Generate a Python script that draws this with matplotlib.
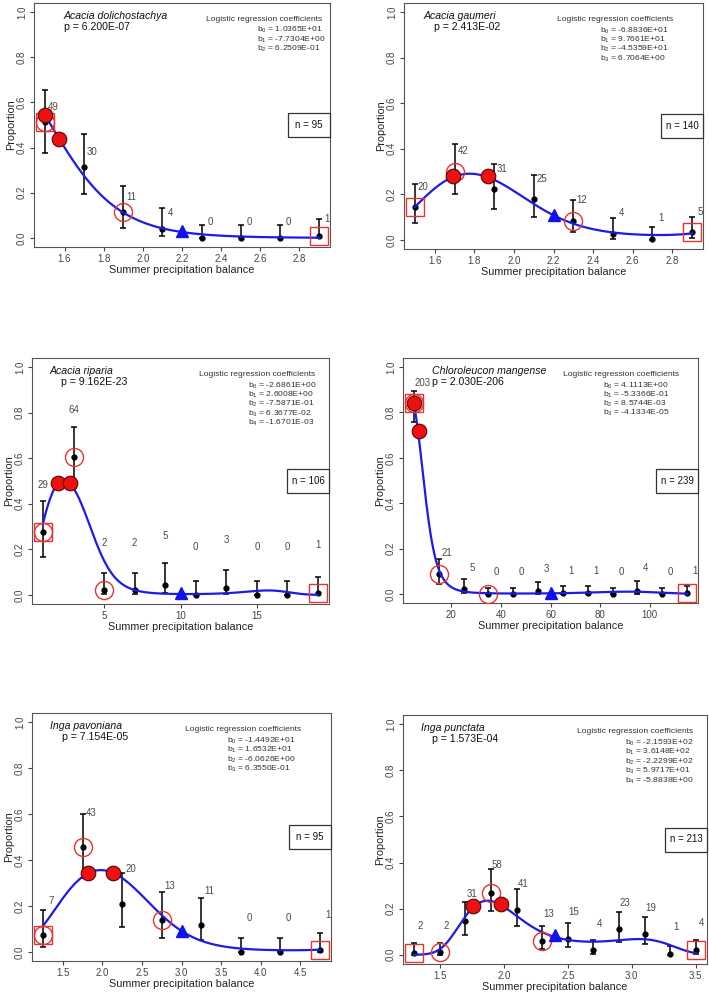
import numpy as np
import matplotlib
matplotlib.use("Agg")
import matplotlib.pyplot as plt
from matplotlib.patches import Rectangle

plt.rcParams['font.family'] = ['Liberation Sans', 'DejaVu Sans']
plt.rcParams['mathtext.fontset'] = 'custom'
plt.rcParams['mathtext.rm'] = 'Liberation Sans'
plt.rcParams['mathtext.it'] = 'Liberation Sans:italic'

# ---- data ----
species = ["Acacia dolichostachya", "Acacia gaumeri", "Acacia riparia",
           "Chloroleucon mangense", "Inga pavoniana", "Inga punctata"]
p_values = ["6.200E-07", "2.413E-02", "9.162E-23", "2.030E-206", "7.154E-05", "1.573E-04"]
n_total = [95, 140, 106, 239, 95, 213]

coef1 = ["1.0365E+01", "-7.7304E+00", "6.2509E-01"]
coef2 = ["-6.8836E+01", "9.7661E+01", "-4.5359E+01", "6.7064E+00"]
coef3 = ["-2.6861E+00", "2.6008E+00", "-7.5871E-01", "6.3677E-02", "-1.6701E-03"]
coef4 = ["4.1113E+00", "-5.3366E-01", "8.5744E-03", "-4.1334E-05"]
coef5 = ["-1.4492E+01", "1.6532E+01", "-6.0626E+00", "6.3550E-01"]
coef6 = ["-2.1593E+02", "3.6148E+02", "-2.2299E+02", "5.9717E+01", "-5.8838E+00"]

x1 = [1.5, 1.7, 1.9, 2.1, 2.3, 2.5, 2.7, 2.9]
y1 = [0.515, 0.315, 0.115, 0.04, 0.0, 0.0, 0.0, 0.01]
lo1 = [0.375, 0.195, 0.045, 0.008, 0.0, 0.0, 0.0, 0.0]
hi1 = [0.655, 0.46, 0.232, 0.134, 0.058, 0.058, 0.058, 0.082]
cnt1 = [49, 30, 11, 4, 0, 0, 0, 1]

x2 = [1.5, 1.7, 1.9, 2.1, 2.3, 2.5, 2.7, 2.9]
y2 = [0.145, 0.30, 0.225, 0.18, 0.085, 0.028, 0.005, 0.035]
lo2 = [0.075, 0.20, 0.135, 0.10, 0.035, 0.005, 0.0, 0.008]
hi2 = [0.245, 0.42, 0.335, 0.285, 0.175, 0.095, 0.058, 0.102]
cnt2 = [20, 42, 31, 25, 12, 4, 1, 5]

x3 = [1, 3, 5, 7, 9, 11, 13, 15, 17, 19]
y3 = [0.275, 0.605, 0.02, 0.02, 0.045, 0.0, 0.03, 0.0, 0.0, 0.01]
lo3 = [0.165, 0.47, 0.005, 0.005, 0.008, 0.0, 0.005, 0.0, 0.0, 0.0]
hi3 = [0.412, 0.737, 0.095, 0.095, 0.14, 0.06, 0.11, 0.06, 0.06, 0.078]
cnt3 = [29, 64, 2, 2, 5, 0, 3, 0, 0, 1]

x4 = [5, 15, 25, 35, 45, 55, 65, 75, 85, 95, 105, 115]
y4 = [0.84, 0.088, 0.02, 0.0, 0.0, 0.012, 0.005, 0.005, 0.0, 0.012, 0.0, 0.005]
lo4 = [0.757, 0.045, 0.003, 0.0, 0.0, 0.0, 0.0, 0.0, 0.0, 0.0, 0.0, 0.0]
hi4 = [0.896, 0.152, 0.065, 0.026, 0.026, 0.052, 0.036, 0.036, 0.026, 0.055, 0.026, 0.036]
cnt4 = [203, 21, 5, 0, 0, 3, 1, 1, 0, 4, 0, 1]

x5 = [1.25, 1.75, 2.25, 2.75, 3.25, 3.75, 4.25, 4.75]
y5 = [0.075, 0.455, 0.21, 0.14, 0.115, 0.0, 0.0, 0.01]
lo5 = [0.02, 0.32, 0.11, 0.06, 0.05, 0.0, 0.0, 0.0]
hi5 = [0.18, 0.60, 0.345, 0.26, 0.235, 0.06, 0.06, 0.082]
cnt5 = [7, 43, 20, 13, 11, 0, 0, 1]

x6 = [1.3, 1.5, 1.7, 1.9, 2.1, 2.3, 2.5, 2.7, 2.9, 3.1, 3.3, 3.5]
y6 = [0.008, 0.01, 0.148, 0.27, 0.195, 0.06, 0.07, 0.02, 0.11, 0.09, 0.005, 0.02]
lo6 = [0.0, 0.0, 0.085, 0.19, 0.125, 0.025, 0.032, 0.002, 0.055, 0.045, 0.0, 0.005]
hi6 = [0.05, 0.05, 0.23, 0.37, 0.285, 0.125, 0.138, 0.065, 0.185, 0.165, 0.04, 0.065]
cnt6 = [2, 2, 31, 58, 41, 13, 15, 4, 23, 19, 1, 4]

# highlighted points (red open circles) and fitted markers
open1 = [1.5, 1.9]
open2 = [1.7, 2.3]
open3 = [1, 3, 5]
open4 = [5, 15, 35]
open5 = [1.25, 1.75, 2.75]
open6 = [1.5, 1.9, 2.3]

red_x1, red_y1 = [1.5, 1.57], [0.545, 0.44]
red_x2, red_y2 = [1.69, 1.87], [0.28, 0.28]
red_x3, red_y3 = [2.0, 2.75], [0.49, 0.49]
red_x4, red_y4 = [5, 7], [0.84, 0.72]
red_x5, red_y5 = [1.82, 2.14], [0.345, 0.345]
red_x6, red_y6 = [1.76, 1.98], [0.21, 0.22]

tri_x = [2.2, 2.2, 10, 60, 3.0, 2.4]
tri_y = [0.03, 0.11, 0.01, 0.005, 0.09, 0.085]

xticks1 = [1.6, 1.8, 2.0, 2.2, 2.4, 2.6, 2.8]
xticks2 = [1.6, 1.8, 2.0, 2.2, 2.4, 2.6, 2.8]
xticks3 = [5, 10, 15]
xticks4 = [20, 40, 60, 80, 100]
xticks5 = [1.5, 2.0, 2.5, 3.0, 3.5, 4.0, 4.5]
xticks6 = [1.5, 2.0, 2.5, 3.0, 3.5]

# count label heights
laby1 = [0.58, 0.38, 0.18, 0.11, 0.07, 0.07, 0.07, 0.082]
laby2 = [0.231, 0.39, 0.31, 0.267, 0.175, 0.117, 0.095, 0.124]
laby3 = [0.482, 0.81, 0.23, 0.23, 0.26, 0.21, 0.24, 0.21, 0.21, 0.218]
laby4 = [0.928, 0.18, 0.113, 0.098, 0.098, 0.108, 0.103, 0.103, 0.098, 0.115, 0.098, 0.103]
laby5 = [0.221, 0.605, 0.36, 0.287, 0.264, 0.148, 0.148, 0.161]
laby6 = [0.124, 0.124, 0.263, 0.388, 0.309, 0.177, 0.184, 0.134, 0.224, 0.205, 0.119, 0.136]

# ---- layout ----
W, H = 709, 998
boxes_px = [(34, 3, 330, 247), (404, 3, 703, 249), (32, 358, 329, 604),
            (403, 358, 698, 603), (32, 713, 331, 961), (403, 715, 707, 964)]
lab_dx = [6, 6, 0, 6, 6, 4.5]
name_x = [0.101, 0.064, 0.059, 0.098, 0.061, 0.06]
pval_x = [0.101, 0.099, 0.099, 0.098, 0.1, 0.096]
head_x = [0.581, 0.513, 0.561, 0.543, 0.512, 0.571]
coef_x = [0.753, 0.654, 0.727, 0.679, 0.651, 0.731]

panels = [
    (x1, y1, lo1, hi1, cnt1, coef1, open1, red_x1, red_y1, xticks1, laby1),
    (x2, y2, lo2, hi2, cnt2, coef2, open2, red_x2, red_y2, xticks2, laby2),
    (x3, y3, lo3, hi3, cnt3, coef3, open3, red_x3, red_y3, xticks3, laby3),
    (x4, y4, lo4, hi4, cnt4, coef4, open4, red_x4, red_y4, xticks4, laby4),
    (x5, y5, lo5, hi5, cnt5, coef5, open5, red_x5, red_y5, xticks5, laby5),
    (x6, y6, lo6, hi6, cnt6, coef6, open6, red_x6, red_y6, xticks6, laby6),
]

fig = plt.figure(figsize=(W / 100, H / 100), dpi=100)

for i, (x, y, lo, hi, cnt, coef, opn, rx, ry, xt, ly) in enumerate(panels):
    l, t, r, b = boxes_px[i]
    ax = fig.add_axes([l / W, 1 - b / H, (r - l) / W, (b - t) / H])
    x = np.array(x, dtype=float)
    y = np.array(y)
    span = x[-1] - x[0]
    ax.set_xlim(x[0] - 0.04 * span, x[-1] + 0.04 * span)
    ax.set_ylim(-0.04, 1.04)

    # error bars and observed proportions
    yerr = [y - np.array(lo), np.array(hi) - y]
    ax.errorbar(x, y, yerr=yerr, fmt='o', color='black', ms=3.5, lw=1.1,
                capsize=2.5, capthick=1.1, zorder=2)

    # fitted logistic curve from the printed coefficients
    b_vals = [float(c) for c in coef]
    xs = np.linspace(x[0], x[-1], 400)
    eta = sum(bk * xs ** k for k, bk in enumerate(b_vals))
    ax.plot(xs, 1 / (1 + np.exp(-eta)), color='#1c1ce6', lw=1.6, zorder=3)

    # highlighted points
    for xo in opn:
        j = int(np.argmin(np.abs(x - xo)))
        ax.plot(x[j], y[j], 'o', ms=13, mfc='none', mec='#e8332e', mew=1.0, zorder=4)
    ax.plot([x[0], x[-1]], [y[0], y[-1]], 's', ms=13, mfc='none', mec='#e8332e',
            mew=1.0, zorder=4)
    ax.plot(rx, ry, 'o', ms=10.5, mfc='#ee1111', mec='#5a0000', mew=0.8, zorder=5)
    ax.plot(tri_x[i], tri_y[i], '^', ms=9, color='#1010f0', zorder=5)

    # sample counts
    for xi, c, yl in zip(x, cnt, ly):
        ax.annotate(str(c), (xi, yl), xytext=(lab_dx[i], 0), textcoords='offset points',
                    ha='center', va='center', fontsize=7, color='#4a4a4a')

    # texts
    ax.text(name_x[i], 0.946, species[i], transform=ax.transAxes, style='italic',
            fontsize=7.6, va='center', ha='left', color='#111111')
    ax.text(pval_x[i], 0.902, "p = " + p_values[i], transform=ax.transAxes,
            fontsize=7.6, va='center', ha='left', color='#111111')
    ax.text(head_x[i], 0.933, "Logistic regression coefficients", transform=ax.transAxes,
            fontsize=6.1, va='center', ha='left', color='#333333')
    for k, c in enumerate(coef):
        ax.text(coef_x[i], 0.888 - 0.038 * k, "b$_{%d}$ = %s" % (k, c),
                transform=ax.transAxes, fontsize=6.1, va='center', ha='left',
                color='#333333')

    # n box at the right edge
    bw = 42 / (r - l)
    bh = 24 / (b - t)
    ax.add_patch(Rectangle((1 - bw, 0.5 - bh / 2), bw, bh, transform=ax.transAxes,
                           fc='white', ec='#333333', lw=0.9, zorder=6, clip_on=False))
    ax.text(1 - bw / 2, 0.5, "n = %d" % n_total[i], transform=ax.transAxes,
            fontsize=7, ha='center', va='center', zorder=7, color='#111111')

    # axes styling (R-like)
    ax.set_xticks(xt)
    if i in (2, 3):
        ax.set_xticklabels([str(v) for v in xt])
    else:
        ax.set_xticklabels(["%.1f" % v for v in xt])
    ax.set_yticks([0, 0.2, 0.4, 0.6, 0.8, 1.0])
    ax.set_yticklabels(["0.0", "0.2", "0.4", "0.6", "0.8", "1.0"], rotation=90, va='center')
    ax.tick_params(length=3, width=0.8, labelsize=7, colors='#444444', pad=2)
    for s in ax.spines.values():
        s.set_color('#555555')
        s.set_linewidth(0.8)
    ax.set_xlabel("Summer precipitation balance", fontsize=7.8, labelpad=1, color='#222222')
    ax.set_ylabel("Proportion", fontsize=7.8, labelpad=1, color='#222222')

fig.savefig("out.png", dpi=100, facecolor='white')
